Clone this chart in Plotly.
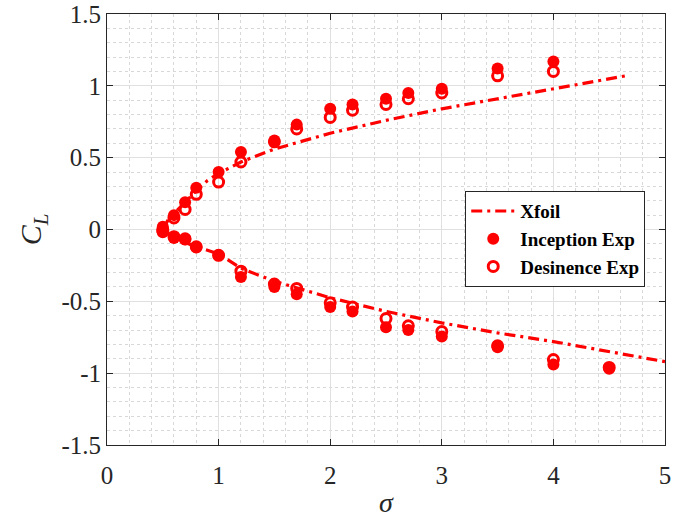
import plotly.graph_objects as go

# Xfoil curve
xf_up_sigma = [0.5, 0.55, 0.6, 0.7, 0.8, 0.9, 1.0, 1.2, 1.5, 2.0, 2.5, 3.0, 3.5, 4.0, 4.65]
xf_up_cl = [0.0, 0.07, 0.11, 0.19, 0.27, 0.34, 0.39, 0.47, 0.56, 0.67, 0.76, 0.84, 0.91, 0.98, 1.07]
xf_lo_sigma = [0.5, 0.55, 0.6, 0.7, 0.8, 0.9, 1.0, 1.2, 1.5, 2.0, 2.5, 3.0, 3.5, 4.0, 4.5, 5.0]
xf_lo_cl = [0.0, -0.03, -0.05, -0.09, -0.12, -0.145, -0.17, -0.27, -0.36, -0.475, -0.57, -0.65, -0.72, -0.78, -0.85, -0.92]

# Inception experiments (filled)
inc_sigma = [0.5, 0.6, 0.7, 0.8, 1.0, 1.2, 1.5, 1.7, 2.0, 2.2, 2.5, 2.7, 3.0, 3.5, 4.0,
             0.5, 0.6, 0.7, 0.8, 1.0, 1.2, 1.5, 1.7, 2.0, 2.2, 2.5, 2.7, 3.0, 3.5, 4.0, 4.5]
inc_cl = [0.02, 0.10, 0.19, 0.29, 0.40, 0.54, 0.62, 0.73, 0.84, 0.87, 0.91, 0.95, 0.98, 1.12, 1.17,
          -0.02, -0.06, -0.07, -0.125, -0.18, -0.33, -0.40, -0.45, -0.54, -0.57, -0.68, -0.70, -0.745, -0.82, -0.94, -0.97]

# Desinence experiments (open)
des_sigma = [0.5, 0.6, 0.7, 0.8, 1.0, 1.2, 1.5, 1.7, 2.0, 2.2, 2.5, 2.7, 3.0, 3.5, 4.0,
             0.5, 0.6, 0.7, 0.8, 1.0, 1.2, 1.5, 1.7, 2.0, 2.2, 2.5, 2.7, 3.0, 3.5, 4.0, 4.5]
des_cl = [0.0, 0.08, 0.14, 0.245, 0.33, 0.47, 0.61, 0.70, 0.78, 0.83, 0.87, 0.91, 0.95, 1.07, 1.10,
          -0.01, -0.05, -0.065, -0.12, -0.18, -0.29, -0.38, -0.41, -0.51, -0.54, -0.62, -0.67, -0.71, -0.81, -0.905, -0.96]

xticks = [0, 1, 2, 3, 4, 5]
yticks = [-1.5, -1, -0.5, 0, 0.5, 1, 1.5]

RED = "#ff0000"
DASH = "11px,5px,3px,5px"
FONT = "Times New Roman, Liberation Serif, DejaVu Serif, serif"

fig = go.Figure()
fig.add_trace(go.Scatter(x=xf_up_sigma, y=xf_up_cl, mode="lines", name="Xfoil",
                         line=dict(color=RED, width=3.2, dash=DASH), legendgroup="x"))
fig.add_trace(go.Scatter(x=xf_lo_sigma, y=xf_lo_cl, mode="lines", name="Xfoil", showlegend=False,
                         line=dict(color=RED, width=3.2, dash=DASH), legendgroup="x"))
fig.add_trace(go.Scatter(x=inc_sigma, y=inc_cl, mode="markers", name="Inception Exp",
                         marker=dict(color=RED, size=12, symbol="circle", line=dict(width=0))))
fig.add_trace(go.Scatter(x=des_sigma, y=des_cl, mode="markers", name="Desinence Exp",
                         marker=dict(color=RED, size=10, symbol="circle-open", line=dict(width=3, color=RED))))

axis_common = dict(
    showline=True, linecolor="#262626", linewidth=1, mirror="ticks",
    ticks="inside", ticklen=6, tickcolor="#262626",
    showgrid=True, gridcolor="#e0e0e0", gridwidth=1,
    zeroline=False, automargin=False, ticklabeloverflow="allow",
    tickfont=dict(family=FONT, size=25, color="#262626"),
)

fig.update_xaxes(range=[0, 5], tickvals=xticks, ticktext=[str(v) for v in xticks],
                 ticklabelstandoff=8,
                 minor=dict(dtick=0.2, showgrid=True, gridcolor="#d8d8d8", griddash="dot", gridwidth=1, ticks=""),
                 title=dict(text="<i>σ</i>", font=dict(family=FONT, size=28, color="#262626"), standoff=4),
                 **axis_common)
fig.update_yaxes(range=[-1.5, 1.5], tickvals=yticks, ticktext=[("%g" % v) for v in yticks],
                 minor=dict(dtick=0.1, showgrid=True, gridcolor="#d8d8d8", griddash="dot", gridwidth=1, ticks=""),
                 title=dict(text="<i>C</i><sub><i>L</i></sub>", font=dict(family=FONT, size=30, color="#262626"), standoff=10),
                 **axis_common)

fig.update_layout(
    width=673, height=521,
    margin=dict(l=107, r=8, t=14, b=76),
    plot_bgcolor="white", paper_bgcolor="white",
    font=dict(family=FONT),
    legend=dict(x=0.642, y=0.589, xanchor="left", yanchor="top",
                bgcolor="white", bordercolor="#262626", borderwidth=1,
                font=dict(family=FONT, size=19, color="black", weight="bold"),
                tracegroupgap=0, itemwidth=44),
    showlegend=True,
)

fig.write_html("out.html", config={"displayModeBar": False},
               post_script="document.body.style.margin='0';document.body.style.padding='0';")
